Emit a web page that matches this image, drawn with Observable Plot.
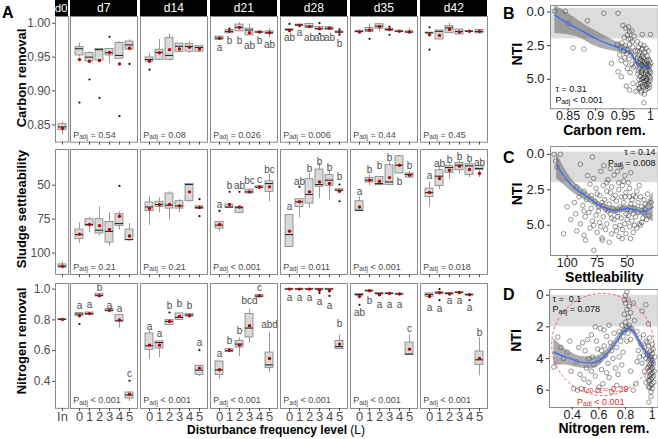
<!DOCTYPE html>
<html><head><meta charset="utf-8">
<script src="https://cdn.jsdelivr.net/npm/d3@7"></script>
<script src="https://cdn.jsdelivr.net/npm/@observablehq/plot@0.6"></script>
<style>
body{margin:0;background:#fff;}
#root{position:relative;width:658px;height:439px;overflow:hidden;background:#fff;font-family:"Liberation Sans",Arial,Helvetica,sans-serif;}
#root svg{position:absolute;overflow:visible;}
.lbl{position:absolute;white-space:nowrap;line-height:1;}
.strip{position:absolute;background:#000;color:#fff;font-size:12px;text-align:center;line-height:16px;height:16px;top:0;}
</style></head><body><div id="root"></div>
<script>
// ---------------- DATA ----------------
const days = ["d7","d14","d21","d28","d35","d42"];
const levels = ["0","1","2","3","4","5"];
const rowTitles = ["Carbon removal","Sludge settleability","Nitrogen removal"];
const carbonTicks = [0.85,0.90,0.95,1.00];
const sludgeTicks = [50,75,100];
const nitrogenTicks = [0.4,0.6,0.8,1.0];

// box stats per day x level: [low whisker, q1, median, q3, high whisker]
const carbonBox = [
[0.950,0.9525,0.9624,0.9647,0.971],[0.944,0.9437,0.950,0.9559,0.958],[0.945,0.945,0.961,0.962,0.962],[0.940,0.9525,0.9565,0.962,0.962],[0.9476,0.9476,0.9525,0.971,0.973],[0.961,0.961,0.968,0.973,0.9756],
[0.9437,0.9437,0.9466,0.9496,0.955],[0.946,0.946,0.957,0.961,0.976],[0.944,0.946,0.9525,0.9785,0.984],[0.9574,0.9574,0.966,0.970,0.970],[0.956,0.958,0.9657,0.969,0.9726],[0.958,0.958,0.9643,0.966,0.966],
[0.9756,0.9756,0.978,0.9804,0.9804],[0.985,0.985,0.9878,0.990,0.990],[0.988,0.988,0.994,0.998,1.001],[0.982,0.982,0.990,0.992,0.999],[0.986,0.986,0.987,0.9875,0.9875],[0.9785,0.984,0.986,0.988,0.9926],
[0.989,0.989,0.9907,0.991,0.992],[0.996,0.996,0.9976,0.998,0.999],[0.993,0.993,0.9956,0.999,1.0],[0.9907,0.9907,0.9918,0.9946,0.9946],[0.990,0.990,0.9926,0.994,0.994],[0.986,0.986,0.987,0.988,0.988],
[0.9857,0.9866,0.9878,0.989,0.990],[0.986,0.987,0.990,0.993,0.999],[0.987,0.992,0.9956,0.9985,0.9985],[0.989,0.989,0.9907,0.992,0.992],[0.987,0.987,0.988,0.989,0.989],[0.984,0.986,0.987,0.988,0.993],
[0.985,0.985,0.9858,0.9862,0.9862],[0.976,0.976,0.988,0.9893,0.9893],[0.985,0.9853,0.9932,0.9956,1.0],[0.9834,0.9834,0.9878,0.9907,0.9907],[0.985,0.987,0.988,0.9885,0.991],[0.985,0.985,0.9878,0.990,0.990]];
const carbonMean = [0.9466,0.944,0.945,0.957,0.940,0.963, 0.944,0.9565,0.961,0.962,0.9647,0.962, 0.978,0.988,0.9937,0.986,0.987,0.986, 0.989,0.9966,0.995,0.9918,0.9926,0.987, 0.987,0.990,0.995,0.9907,0.988,0.987, 0.983,0.982,0.9907,0.987,0.988,0.9878];
const carbonOut = [["d7","0",0.883],["d7","1",0.917],["d7","2",0.890],["d7","3",0.980],["d7","4",0.863],["d7","5",0.940],["d14","0",0.9315],["d21","1",0.992],["d28","0",0.999],["d28","3",1.0],["d28","3",0.9844],["d28","5",0.991],["d28","5",0.983],["d35","1",0.977],["d35","3",0.995],["d35","3",0.983],["d42","0",0.994],["d42","0",0.961]];
const carbonLetters = [["d21","0","a",0.9638],["d21","1","b",0.9735],["d21","2","b",0.974],["d21","3","ab",0.967],["d21","4","b",0.9735],["d21","5","ab",0.968],["d28","0","ab",0.978],["d28","1","a",0.986],["d28","2","ab",0.978],["d28","3","ab",0.978],["d28","4","ab",0.978],["d28","5","b",0.9697]];
const carbonP = ["= 0.54","= 0.08","= 0.026","= 0.006","= 0.44","= 0.45"];
const carbonIn = [0.835,0.842,0.847,0.851,0.854];
const carbonInMean = 0.845;

const sludgeBox = [
[77.5,82.6,86.3,89.7,92.9],[73.8,75,78.9,79.9,84.8],[66,75,83.1,85.5,87.3],[70.3,77,84,92.2,94.6],[69.6,71.3,78.2,79.9,83.1],[78.2,82.6,90,90.4,91.5],
[58.1,62.7,66,69.1,79.4],[59.3,62.2,64.2,66,70.3],[54.9,56.1,64.7,67.2,75.7],[60.5,61.8,65.2,67.2,70.3],[49,49,49.5,61.8,61.8],[65.5,65.5,66.4,67.5,67.5],
[77,77,79.4,81.9,84.3],[64.2,64.2,66,66.7,66.7],[66,66,66.5,70.3,71],[53.2,53.2,54.9,56.1,56.1],[50.7,50.7,51.5,52.2,52.2],[42.1,47.1,48.8,54.9,62.2],
[72,72,86.3,95.4,95.4],[60.3,60.3,62.2,66,74],[41.4,45.6,56.8,63.5,66.7],[34,38.5,49.5,51.2,59.8],[39,42.6,46.3,50.5,61],[53,53,53.7,54.2,54.2],
[58.6,61.8,68.4,69.1,69.1],[42.6,44.6,46.3,48,50.7],[43.9,43.9,48.8,50,50],[32.9,35.3,47.6,50,50],[28,28.7,35.3,41.4,41.4],[39.7,41.4,42.1,44.4,45.1],
[47.6,52.5,55.4,58.6,66],[36,39,43.4,50.5,53.2],[34,36,37,41,45.8],[32,33.6,35.3,39,41.4],[33,34.6,35.8,42.6,44.4],[35.8,35.8,37.7,39,44.4]];
const sludgeMean = [86,78.9,79.7,82.6,72.8,87.3, 67.2,64.2,64.2,65.2,54.9,66.4, 78.9,64.2,66,54.9,51.5,51.2, 83.8,62.2,54.9,47.6,48.8,54.4, 66,46.3,47.1,44.4,35.3,42.6, 55.4,45.1,39,36,38.5,41.4];
const sludgeOut = [["d7","4",50.5],["d14","5",60.3],["d14","5",72.8],["d21","0",68.9],["d21","1",54.9],["d21","2",54.9],["d28","1",51.2],["d28","5",49.5],["d28","5",61.8]];
const sludgeLetters = [["d21","0","a",64.2],["d21","1","b",50.5],["d21","2","ab",50.5],["d21","3","bc",47],["d21","4","c",46.3],["d21","5","bc",38.5],["d28","0","a",66],["d28","1","ab",47.6],["d28","2","b",38.2],["d28","3","b",32.9],["d28","4","b",37.3],["d28","5","b",43.9],["d35","0","a",54.9],["d35","1","b",39],["d35","2","b",35.8],["d35","3","b",29.6],["d35","4","b",47.6],["d35","5","b",35.8],["d42","0","a",43.2],["d42","1","ab",34.6],["d42","2","b",31.6],["d42","3","b",29.2],["d42","4","b",30.4],["d42","5","ab",33.8]];
const sludgeP = ["= 0.21","= 0.21","< 0.001","= 0.011","< 0.001","= 0.018"];
const sludgeIn = [106.4,108.3,109.6,110.8,111.8];
const sludgeInMean = 109.6;

const nitrogenBox = [
[0.827,0.827,0.838,0.844,0.844],[0.831,0.831,0.841,0.848,0.848],[0.952,0.952,0.959,0.968,0.968],[0.855,0.855,0.862,0.870,0.870],[0.747,0.790,0.794,0.833,0.833],[0.270,0.290,0.312,0.329,0.335],
[0.541,0.606,0.632,0.712,0.729],[0.556,0.614,0.653,0.660,0.660],[0.766,0.766,0.790,0.799,0.799],[0.799,0.799,0.816,0.842,0.842],[0.822,0.822,0.831,0.838,0.838],[0.432,0.443,0.474,0.502,0.502],
[0.416,0.442,0.476,0.530,0.530],[0.593,0.593,0.600,0.610,0.610],[0.562,0.621,0.643,0.664,0.682],[0.647,0.686,0.747,0.838,0.870],[0.948,0.948,0.955,0.961,0.961],[0.458,0.487,0.508,0.588,0.720],
[0.997,0.997,1.0,1.002,1.002],[0.997,0.997,1.0,1.002,1.002],[0.997,0.997,1.0,1.002,1.002],[0.993,0.997,1.0,1.002,1.002],[0.990,0.997,1.0,1.002,1.002],[0.610,0.610,0.627,0.664,0.701],
[0.957,0.957,0.965,0.968,0.968],[0.986,0.986,0.989,0.991,0.991],[0.963,0.965,0.972,0.975,0.975],[0.968,0.968,0.972,0.974,0.974],[0.965,0.965,0.968,0.970,0.970],[0.573,0.573,0.578,0.653,0.701],
[0.950,0.950,0.965,0.972,0.972],[0.970,0.970,0.976,0.980,0.980],[0.965,0.965,0.972,0.975,0.975],[0.975,0.975,0.978,0.981,0.981],[0.960,0.960,0.963,0.966,0.966],[0.437,0.508,0.541,0.595,0.686]];
const nitrogenMean = [0.827,0.841,0.957,0.862,0.799,0.318, 0.636,0.636,0.790,0.822,0.827,0.487, 0.476,0.603,0.636,0.762,0.955,0.549, 1.0,1.0,1.0,0.993,0.989,0.643, 0.952,0.989,0.963,0.972,0.968,0.610, 0.952,0.976,0.968,0.978,0.963,0.549];
const nitrogenOut = [["d7","0",0.773],["d7","5",0.405],["d14","2",0.848],["d14","5",0.604],["d28","3",0.974],["d28","4",0.956],["d35","0",0.898],["d42","1",1.0],["d42","1",0.929],["d42","4",0.929]];
const nitrogenLetters = [
["d7","0","a",0.892],["d7","1","a",0.896],["d7","2","b",1.01],["d7","3","a",0.892],["d7","4","a",0.874],["d7","5","c",0.452],
["d14","0","a",0.757],["d14","1","a",0.708],["d14","2","b",0.892],["d14","3","b",0.906],["d14","4","b",0.892],["d14","5","a",0.653],
["d21","0","a",0.582],["d21","1","b",0.664],["d21","2","b",0.729],["d21","3","bcd",0.924],["d21","4","c",1.006],["d21","5","abd",0.765],
["d28","0","a",0.945],["d28","1","a",0.945],["d28","2","a",0.945],["d28","3","a",0.919],["d28","4","a",0.892],["d28","5","b",0.777],
["d35","0","ab",0.848],["d35","1","b",0.924],["d35","2","a",0.898],["d35","3","a",0.898],["d35","4","a",0.898],["d35","5","c",0.740],
["d42","0","a",0.877],["d42","1","a",0.870],["d42","2","a",0.924],["d42","3","a",0.924],["d42","4","a",0.877],["d42","5","b",0.714]];
const nitrogenP = ["< 0.001","< 0.001","< 0.001","< 0.001","< 0.001","< 0.001"];
const nitrogenIn = [0.800,0.800,0.803,0.805,0.805];
const nitrogenInMean = 0.803;

// NTI scatter: [x, NTI]
const carbonNTI = [[0.826,-0.05],[0.845,-0.05],[0.850,0.85],[0.885,0.65],[0.915,0.1],[0.941,0.1],[0.859,2.67],[0.879,2.76],[0.929,3.82],[0.941,4.44],[0.947,4.81],[0.956,5.5],[0.962,5.8],[0.973,5.9],[0.979,5.7],[0.983,5.85],[0.988,6.74],[0.968,5.3],[0.950,1.0],[0.955,1.2],[0.960,1.1],[0.962,1.5],[0.958,1.7],[0.966,1.4],[0.970,1.8],[0.952,1.9],[0.964,2.0],[0.985,1.67],[1.0,1.67],[0.940,2.4],[0.945,2.7],[0.948,2.3],[0.951,2.9],[0.954,2.5],[0.957,3.1],[0.953,3.4],[0.959,2.8],[0.962,2.4],[0.965,3.0],[0.968,2.6],[0.970,3.3],[0.972,2.9],[0.947,3.6],[0.955,3.8],[0.961,3.5],[0.966,3.9],[0.969,4.1],[0.944,3.2],[0.958,4.2],[0.963,4.5],[0.972,4.0],[0.974,3.6],[0.967,2.2],[0.960,2.0],[0.976,2.2],[0.978,2.6],[0.980,3.0],[0.982,2.4],[0.984,2.8],[0.986,3.2],[0.988,2.5],[0.990,3.0],[0.992,2.7],[0.994,3.3],[0.996,2.9],[0.998,3.6],[0.976,3.4],[0.978,3.8],[0.980,4.2],[0.981,3.5],[0.983,3.9],[0.984,4.4],[0.985,3.6],[0.986,4.0],[0.987,4.6],[0.988,3.7],[0.989,4.2],[0.990,4.8],[0.991,3.9],[0.992,4.4],[0.993,5.0],[0.994,4.1],[0.995,4.6],[0.996,5.2],[0.997,4.3],[0.998,4.8],[0.999,4.0],[1.0,4.5],[0.977,4.6],[0.979,5.0],[0.981,4.8],[0.982,5.3],[0.984,5.0],[0.985,5.5],[0.987,5.2],[0.988,5.6],[0.990,5.4],[0.991,5.8],[0.993,5.5],[0.995,5.7],[0.997,5.4],[0.999,5.1],[0.983,6.0],[0.989,6.1],[0.979,3.2],[0.981,4.0],[0.983,4.5],[0.985,4.3],[0.987,3.4],[0.989,3.8],[0.991,4.6],[0.993,3.6],[0.995,3.9],[0.997,4.0],[0.999,4.4],[0.986,4.9],[0.992,5.1],[0.996,4.7],[0.980,5.6],[0.978,4.4],[0.998,5.6],[0.994,5.3],[0.990,5.1],[0.982,3.7],[0.988,4.9],[0.984,3.3],[0.992,4.0],[0.996,3.5],[0.978,5.4],[1.0,3.8],[1.0,4.9],[0.986,2.7],[0.976,2.9]];
const settleNTI = [[111,0],[105.6,0],[109.6,0.47],[108.5,0.9],[79,0.19],[89,0.7],[69.5,0.8],[64,1.0],[58,1.2],[61,1.45],[55,0.9],[52,1.5],[47,1.3],[72,1.2],[83,1.5],[78,1.7],[66,1.8],[92,2.3],[86,2.6],[81,2.1],[76,2.4],[73,2.9],[70,2.2],[67,2.6],[63,2.3],[60,2.9],[57,2.5],[54,2.2],[51,2.7],[48,2.4],[45,2.9],[42,2.6],[39,3.0],[36,3.2],[33,2.8],[30,3.4],[94,3.4],[90,3.0],[87,3.6],[84,3.2],[80,3.8],[77,3.3],[74,3.7],[71,3.4],[68,3.9],[65,3.5],[62,3.8],[59,3.3],[56,3.7],[53,3.4],[50,3.9],[47,3.5],[44,3.8],[41,4.1],[38,3.7],[35,3.9],[32,4.3],[100,3.7],[97,4.6],[93,4.2],[89,4.9],[85,4.4],[82,4.1],[79,4.7],[76,4.3],[73,4.8],[70,4.4],[67,4.9],[64,4.2],[61,4.6],[58,4.1],[55,4.5],[52,4.9],[49,4.3],[46,4.7],[43,4.4],[40,4.9],[37,4.5],[34,4.6],[103,5.6],[92,5.4],[86,5.7],[81,5.2],[75,5.5],[71,5.9],[68,5.3],[63,5.6],[60,5.1],[57,5.8],[54,5.3],[51,5.6],[48,5.1],[45,5.5],[42,5.2],[39,5.0],[84.7,6.05],[77.8,6.76],[70.8,6.05],[65,6.2],[54.2,5.94],[47.2,5.94],[62,3.1],[58,4.4],[55,3.0],[50,4.6],[46,3.2],[44,5.0],[41,3.4],[38,4.8],[35,3.5],[66,4.0],[69,3.2],[72,5.1],[74,4.0],[78,5.0],[80,2.9],[86,4.0],[49,2.0],[53,1.9],[57,2.0],[60,4.0],[63,4.5],[43,3.0],[40,2.2],[36,4.1],[47,4.0],[52,3.0],[56,5.0],[59,5.4],[45,4.2],[48,3.0],[51,4.2],[54,3.8],[67,2.0],[75,2.8],[64,2.7],[70,3.6]];
const nitrogenNTI = [[0.80,0.0],[0.81,-0.2],[0.82,0.3],[0.80,0.5],[0.829,0.7],[0.81,0.9],[0.791,1.2],[0.82,1.4],[0.839,1.1],[0.80,1.7],[0.81,2.0],[0.829,1.9],[0.791,2.2],[0.848,2.1],[0.82,2.4],[0.782,2.6],[0.839,2.8],[0.81,2.9],[0.772,1.9],[0.858,0.5],[0.867,1.6],[0.886,2.3],[0.905,2.7],[0.791,0.3],[0.763,2.9],[0.753,2.3],[0.924,1.0],[0.953,0.6],[0.972,1.8],[0.934,2.5],[0.953,2.9],[0.972,3.2],[0.981,2.7],[0.991,3.5],[1.0,3.1],[0.962,3.7],[0.981,4.0],[0.991,4.3],[1.0,4.6],[0.972,4.5],[0.981,4.8],[0.991,5.0],[1.0,5.2],[0.962,5.1],[0.981,5.4],[0.991,5.7],[1.0,5.9],[0.972,5.8],[0.991,6.1],[0.981,3.6],[0.991,3.9],[1.0,4.1],[0.972,4.1],[0.981,4.4],[0.991,4.7],[1.0,4.9],[0.962,4.6],[0.981,5.1],[0.991,5.3],[1.0,5.6],[0.972,5.4],[0.981,5.8],[0.991,4.5],[1.0,3.7],[0.953,4.0],[0.943,3.3],[0.962,3.0],[0.934,3.8],[0.915,3.1],[0.905,3.9],[0.943,4.8],[0.953,5.5],[0.975,6.75],[0.991,6.4],[0.924,4.3],[0.896,3.5],[0.886,4.2],[1.01,4.3],[1.015,4.8],[1.01,5.1],[1.02,3.9],[1.012,5.5],[1.008,3.4],[0.262,4.54],[0.292,2.64],[0.316,3.3],[0.335,4.0],[0.364,3.6],[0.411,5.9],[0.44,6.0],[0.468,5.9],[0.392,4.8],[0.43,4.2],[0.459,5.0],[0.478,3.0],[0.497,3.5],[0.506,4.6],[0.525,5.5],[0.544,2.5],[0.554,3.9],[0.563,4.4],[0.573,5.1],[0.582,2.9],[0.592,3.4],[0.601,4.1],[0.611,2.1],[0.62,4.7],[0.63,5.6],[0.639,3.2],[0.649,3.8],[0.658,2.6],[0.668,4.3],[0.677,5.2],[0.687,3.0],[0.696,3.5],[0.706,4.0],[0.715,2.4],[0.725,4.6],[0.734,3.3],[0.744,5.0],[0.753,3.9],[0.677,1.9],[0.639,2.2],[0.573,2.0],[0.525,4.0],[0.487,5.3],[0.383,2.9],[0.449,3.3],[0.544,4.8],[0.601,5.8],[0.696,6.1],[0.734,5.7],[0.772,4.4],[0.782,3.6],[0.877,5.6],[0.858,6.0],[0.839,4.8],[0.516,2.8],[0.658,4.9],[0.592,6.0],[0.62,3.5]];

// loess fits: x, fit, lower, upper (NTI)
const carbonLoessX = [0.826,0.85,0.875,0.9,0.925,0.94,0.955,0.965,0.972,0.98,0.99,1.0];
const carbonLoessFit = [0.25,0.86,1.4,1.97,2.4,2.62,2.84,3.05,3.6,3.95,4.1,4.15];
const carbonLoessLo = [-0.5,0.1,0.8,1.4,1.95,2.25,2.5,2.8,3.4,3.8,3.95,3.95];
const carbonLoessHi = [1.6,1.7,2.0,2.55,2.85,3.0,3.15,3.3,3.8,4.1,4.25,4.35];
const settleLoessX = [108.9,100,91.7,83.3,75,66.7,58.3,50,41.7,36.1,28.3];
const settleLoessFit = [0.77,1.83,2.54,3.0,3.5,3.83,3.94,3.83,3.94,4.06,3.7];
const settleLoessLo = [-0.1,1.3,2.15,2.7,3.25,3.6,3.72,3.6,3.68,3.7,2.65];
const settleLoessHi = [1.7,2.35,2.9,3.3,3.75,4.05,4.16,4.06,4.2,4.4,4.77];
const nitrogenLoessX = [0.262,0.335,0.387,0.462,0.562,0.637,0.712,0.775,0.824,0.862,0.913,0.962,1.0,1.015];
const nitrogenLoessFit = [3.59,3.85,4.0,4.22,4.25,3.9,3.16,2.42,2.11,2.32,3.06,3.7,4.11,4.3];
const nitrogenLoessLo = [2.74,3.3,3.6,3.85,3.88,3.6,2.9,2.2,1.9,2.1,2.85,3.5,3.8,3.9];
const nitrogenLoessHi = [4.43,4.4,4.45,4.6,4.62,4.2,3.42,2.65,2.32,2.55,3.3,3.9,4.45,4.65];
const ntiBandB = [-0.27,2], ntiBandC = [-0.15,2], ntiBandD = [0,2];
const ellipseD = [0.629,3.11];

// ---------------- DRAW ----------------
const FONT = '"Liberation Sans", Arial, Helvetica, sans-serif';
const root = document.getElementById("root");
function place(el, left, top){ el.style.left = left+"px"; el.style.top = top+"px"; root.appendChild(el); return el; }
function html(cls, text, left, top, css){ const d=document.createElement("div"); d.className=cls; d.innerHTML=text; if(css) d.style.cssText+=css; return place(d,left,top); }

// "P_adj = x" style annotation built from three text pieces: [main, sub, rest, mainW, subW, restW]
function pieces(parts, anchor, dx0, dy0, color, align){
  const fs = 9, fsub = 6.5;
  const wm = parts[3], ws = parts[4];
  const base = {text:d=>d, frameAnchor:anchor, lineAnchor:"middle", fill:color};
  if (align === "end") {
    return [
      Plot.text([parts[2]], {...base, dx:dx0, dy:dy0, fontSize:fs, textAnchor:"end"}),
      Plot.text([parts[1]], {...base, dx:dx0-parts[5], dy:dy0+2.5, fontSize:fsub, textAnchor:"end"}),
      Plot.text([parts[0]], {...base, dx:dx0-parts[5]-ws, dy:dy0, fontSize:fs, textAnchor:"end"})
    ];
  }
  return [
    Plot.text([parts[0]], {...base, dx:dx0, dy:dy0, fontSize:fs, textAnchor:"start"}),
    Plot.text([parts[1]], {...base, dx:dx0+wm, dy:dy0+2.5, fontSize:fsub, textAnchor:"start"}),
    Plot.text([parts[2]], {...base, dx:dx0+wm+ws+2.5, dy:dy0, fontSize:fs, textAnchor:"start"})
  ];
}

const rows = [
  {box:carbonBox, mean:carbonMean, out:carbonOut, letters:carbonLetters, p:carbonP, inBox:carbonIn, inMean:carbonInMean, ticks:carbonTicks, fmt:d3.format(".2f"), top:16, h:125.7, domain:[0.8246,1.0099], reverse:false, titleDy:-1.3, pDy:-7.5},
  {box:sludgeBox, mean:sludgeMean, out:sludgeOut, letters:sludgeLetters, p:sludgeP, inBox:sludgeIn, inMean:sludgeInMean, ticks:sludgeTicks, fmt:d3.format("d"), top:149.3, h:125, domain:[23.75,115.66], reverse:true, titleDy:-2.8, pDy:-7.6},
  {box:nitrogenBox, mean:nitrogenMean, out:nitrogenOut, letters:nitrogenLetters, p:nitrogenP, inBox:nitrogenIn, inMean:nitrogenInMean, ticks:nitrogenTicks, fmt:d3.format(".1f"), top:282.7, h:125, domain:[0.2247,1.0364], reverse:false, titleDy:-5, pDy:-8.4}
];
const baseStyle = {fontFamily:FONT, fontSize:"12px", color:"#4d4d4d", background:"transparent", overflow:"visible"};

function toRow(level, b, m){ return {level, lo:b[0], q1:b[1], med:b[2], q3:b[3], hi:b[4], mean:m}; }
function boxMarks(data, outs, lets){
  return [
    Plot.ruleX(data, {x:"level", y1:"lo", y2:"hi", stroke:"#808080", strokeWidth:0.8}),
    Plot.barY(data, {x:"level", y1:"q1", y2:"q3", fill:"#d9d9d9", stroke:"#808080", strokeWidth:0.8}),
    Plot.tickY(data, {x:"level", y:"med", stroke:"#2b2b2b", strokeWidth:1.1}),
    Plot.dot(outs, {x:"level", y:"v", r:1.1, fill:"#111"}),
    Plot.dot(data, {x:"level", y:"mean", r:1.7, fill:"#c00000"}),
    Plot.text(lets, {x:"level", y:"v", text:"t", fontSize:10, fill:"#4d4d4d"}),
    Plot.frame({stroke:"#8a8a8a"})
  ];
}

rows.forEach((cfg, r) => {
  const bottom = r === 2;
  const inData = [toRow("In", cfg.inBox, cfg.inMean)];
  const d0 = Plot.plot({
    width:13.2, height:cfg.h, margin:0,
    x:{type:"band", domain:["In"], paddingInner:0.2, paddingOuter:0.2},
    y:{domain:cfg.domain, reverse:cfg.reverse},
    style:baseStyle,
    marks:[
      ...boxMarks(inData, [], []),
      Plot.axisX({tickSize:3, tickPadding:0.5, fontSize:13, label:null, tickFormat: bottom ? (d=>d) : (()=>"")}),
      Plot.axisY({ticks:cfg.ticks, tickFormat:cfg.fmt, tickSize:3, tickPadding:2, fontSize:12, label:null}),
      Plot.text([rowTitles[r]], {text:d=>d, frameAnchor:"left", textAnchor:"middle", lineAnchor:"middle", dx:-33.5, dy:cfg.titleDy, rotate:-90, fontSize:13, fontWeight:"bold", fill:"#000"})
    ]
  });
  place(d0, 54.5, cfg.top);
  days.forEach((day, i) => {
    const data = levels.map((lv, j) => toRow(lv, cfg.box[i*6+j], cfg.mean[i*6+j]));
    const outs = cfg.out.filter(o => o[0]===day).map(o => ({level:o[1], v:o[2]}));
    const lets = cfg.letters.filter(o => o[0]===day).map(o => ({level:o[1], t:o[2], v:o[3]}));
    const p = Plot.plot({
      width:67, height:cfg.h, margin:0,
      x:{type:"band", domain:levels, paddingInner:0.25, paddingOuter:0.285},
      y:{domain:cfg.domain, reverse:cfg.reverse, axis:null},
      style:baseStyle,
      marks:[
        ...boxMarks(data, outs, lets),
        Plot.axisX({tickSize:3, tickPadding:0.5, fontSize:13, label:null, tickFormat: bottom ? (d=>d) : (()=>"")}),
        ...pieces(["P","adj",cfg.p[i], 6, 8.7], "bottom-left", 2.7, cfg.pDy, "#4d4d4d", "start")
      ]
    });
    place(p, 70.3 + i*70, cfg.top);
  });
});

// strips
html("strip", "d0", 54.5, 0, "width:13.2px;font-size:11.5px;");
days.forEach((d,i) => html("strip", d, 70.3 + i*70, 0, "width:67px;"));

// NTI panels
function ntiPanel(o){
  const loess = o.lx.map((x,i) => ({x, fit:o.lf[i], lo:o.ll[i], hi:o.lh[i]}));
  const marks = [
    Plot.rect([o.band], {x1:()=>o.xd[0], x2:()=>o.xd[1], y1:d=>d[0], y2:d=>d[1], fill:"#dcdcdc", clip:true}),
    Plot.dot(o.pts, {x:d=>d[0], y:d=>d[1], r:2.3, stroke:"#2a2a2a", strokeWidth:0.6, strokeOpacity:0.8, fill:"none", clip:true}),
    Plot.areaY(loess, {x:"x", y1:"lo", y2:"hi", fill:"#5a5a5a", fillOpacity:0.5, curve:"natural", clip:true}),
    Plot.line(loess, {x:"x", y:"fit", stroke:"#3366ff", strokeWidth:1.2, curve:"natural", clip:true}),
    ...(o.extra || []),
    Plot.frame({stroke:"#8a8a8a"}),
    Plot.axisX({ticks:o.xt, tickFormat:o.xf, tickSize:2.5, tickPadding:0, fontSize:12.5, fill:"#1a1a1a", label:null}),
    Plot.axisY({ticks:o.yt, tickFormat:o.yf, tickSize:3, tickPadding:3, fontSize:13, fill:"#1a1a1a", label:null}),
    Plot.text([o.title], {text:d=>d, frameAnchor:"bottom", textAnchor:"middle", lineAnchor:"middle", dy:o.titleDy, fontSize:14, fontWeight:"bold", fill:"#000"}),
    Plot.text(["NTI"], {text:d=>d, frameAnchor:"left", textAnchor:"middle", lineAnchor:"middle", dx:-32.5, dy:o.ntiDy, rotate:-90, fontSize:14, fontWeight:"bold", fill:"#000"})
  ];
  const p = Plot.plot({
    width:o.w, height:o.h, margin:0,
    x:{domain:o.xd}, y:{domain:o.yd, reverse:true},
    style:{...baseStyle, color:"#333"},
    marks
  });
  place(p, o.left, o.top);
}

ntiPanel({left:550, top:5, w:107.7, h:103.3, xd:[0.818,1.014], yd:[-0.48,7.19],
  xt:[0.85,0.9,0.95,1], xf:d=>String(d), yt:[0,2.5,5], yf:d3.format(".1f"),
  band:ntiBandB, pts:carbonNTI, lx:carbonLoessX, lf:carbonLoessFit, ll:carbonLoessLo, lh:carbonLoessHi,
  title:"Carbon rem.", titleDy:21.5, ntiDy:-3,
  extra:[
    Plot.text(["τ = 0.31"], {text:d=>d, frameAnchor:"bottom-left", lineAnchor:"middle", dx:5, dy:-20, fontSize:9, textAnchor:"start", fill:"#111"}),
    ...pieces(["P","adj","< 0.001",6,8.7], "bottom-left", 5, -9, "#111", "start")
  ]});

ntiPanel({left:550, top:146, w:107.7, h:109, xd:[113.9,24.2], yd:[-0.55,7.13],
  xt:[100,75,50], xf:d3.format("d"), yt:[0,2.5,5], yf:d3.format(".1f"),
  band:ntiBandC, pts:settleNTI, lx:settleLoessX, lf:settleLoessFit, ll:settleLoessLo, lh:settleLoessHi,
  title:"Settleability", titleDy:21.7, ntiDy:-7,
  extra:[
    Plot.text(["τ = 0.14"], {text:d=>d, frameAnchor:"top-right", lineAnchor:"middle", dx:-2.7, dy:5.7, fontSize:9, textAnchor:"end", fill:"#111"}),
    ...pieces(["P","adj","= 0.008",6,8.7,32.8], "top-right", -2.7, 16.3, "#111", "end")
  ]});

ntiPanel({left:549, top:289.3, w:108.7, h:118, xd:[0.230,1.045], yd:[-0.36,7.09],
  xt:[0.4,0.6,0.8,1], xf:d=>String(d), yt:[0,2,4,6], yf:d3.format("d"),
  band:ntiBandD, pts:nitrogenNTI, lx:nitrogenLoessX, lf:nitrogenLoessFit, ll:nitrogenLoessLo, lh:nitrogenLoessHi,
  title:"Nitrogen rem.", titleDy:21.5, ntiDy:-8,
  extra:[
    Plot.dot([ellipseD], {x:d=>d[0], y:d=>d[1], r:51, stroke:"#e65555", strokeWidth:0.9, strokeDasharray:"3,2", fill:"none"}),
    Plot.text(["τ =  0.1"], {text:d=>d, frameAnchor:"top-left", lineAnchor:"middle", dx:3, dy:9.7, fontSize:9, textAnchor:"start", fill:"#111"}),
    ...pieces(["P","adj","= 0.078",6,8.7], "top-left", 3, 20, "#111", "start"),
    ...pieces(["τ","d0-21","=-0.39",5,16.6,25.8], "bottom-right", -29.7, -18.8, "#e03030", "end"),
    ...pieces(["P","adj","< 0.001",6,8.7,32.8], "bottom-right", -33.7, -5.8, "#e03030", "end")
  ]});

// panel letters and bottom title
html("lbl", "A", 2, 4.5, "font-size:16px;font-weight:bold;");
html("lbl", "B", 503, 5.5, "font-size:16px;font-weight:bold;");
html("lbl", "C", 503, 149.5, "font-size:16px;font-weight:bold;");
html("lbl", "D", 503, 286.5, "font-size:16px;font-weight:bold;");
html("lbl", "<b>Disturbance frequency level</b> (L)", 0, 424, "width:552px;text-align:center;font-size:12px;color:#000;");
</script></body></html>
